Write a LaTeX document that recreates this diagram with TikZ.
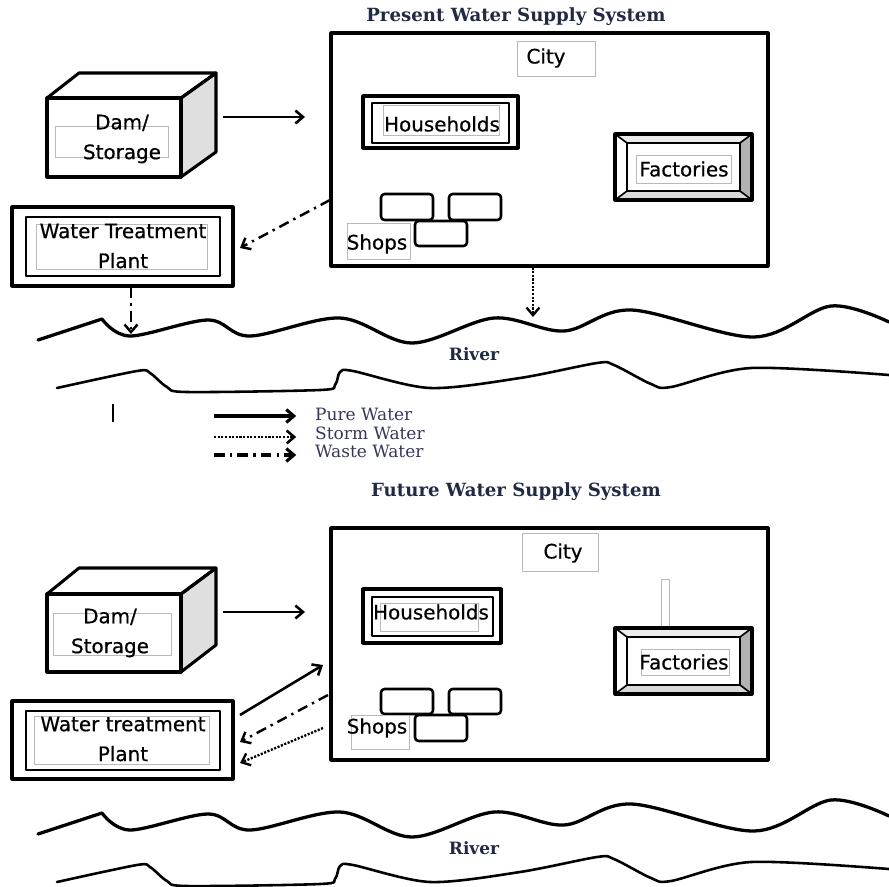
\documentclass[tikz,border=0pt]{standalone}
\usepackage{fontspec}
\usepackage{tikz}
\usetikzlibrary{arrows.meta,fit}
\newfontfamily\handfont[FakeBold=0.6]{DejaVu Sans}
\newfontfamily\capfont{DejaVu Serif}
\definecolor{titleblue}{RGB}{31,42,70}
\definecolor{legendblue}{RGB}{50,54,96}

\begin{document}
\begin{tikzpicture}[
    x=0.03cm, y=-0.03cm,
    line join=round,
    >={Straight Barb[length=6.5pt,width=11pt]},
    box/.style={draw, line width=2.6pt, inner sep=0pt},
    lblbox/.style={draw=gray!55, line width=0.5pt, inner sep=0pt},
    lbl/.style={font=\handfont\fontsize{17}{25.5}\selectfont, align=center, inner sep=0pt},
    heading/.style={font=\capfont\bfseries\fontsize{15.5}{18}\selectfont, text=titleblue, inner sep=0pt},
    riverlbl/.style={font=\capfont\bfseries\fontsize{14.5}{16}\selectfont, text=titleblue, inner sep=0pt},
    legtxt/.style={font=\capfont\fontsize{14.5}{16}\selectfont, text=legendblue, anchor=west, inner sep=0pt},
    pure/.style={->, line width=2.2pt},
    storm/.style={->, line width=2pt, dash pattern=on 1.8pt off 1.3pt},
    waste/.style={->, line width=2.1pt, dash pattern=on 9pt off 4.5pt on 2pt off 4.5pt},
    shop/.style={draw, line width=2.2pt, rounded corners=3pt, inner sep=0pt},
    riverline/.style={line width=2.8pt, line cap=round}
]
\useasboundingbox (0,0) rectangle (889,886);

% ---------- Present Water Supply System ----------
\node[heading] (title1) at (516,17) {Present Water Supply System};

% City
\node[box, fit={(331,33) (768,266)}] (city1) {};
\node[lblbox, fit={(517,41) (595,76)}] (citybox1) {};
\node[lbl] (citytxt1) at (546,58) {City};

% Households
\node[box, fit={(363,96) (518,148)}] (house1) {};
\draw[line width=2.4pt] (372,103) rectangle (509,143);
\node[lblbox, fit={(383,105) (499,135)}] (housebox1) {};
\node[lbl] (housetxt1) at (442,124) {Households};

% Factories
\fill[gray!15] (615,134) -- (752,134) -- (740,143) -- (627,143) -- cycle;
\fill[gray!60] (752,134) -- (752,200) -- (740,191) -- (740,143) -- cycle;
\fill[gray!30] (615,200) -- (752,200) -- (740,191) -- (627,191) -- cycle;
\draw[line width=1.4pt] (615,134) -- (627,143) (752,134) -- (740,143)
    (752,200) -- (740,191) (615,200) -- (627,191);
\draw[line width=1.8pt] (627,143) rectangle (740,191);
\node[box, fit={(615,134) (752,200)}] (fact1) {};
\node[lblbox, fit={(636,155) (731,183)}] (factbox1) {};
\node[lbl] (facttxt1) at (684,169) {Factories};

% Shops
\node[shop, fit={(381,194) (433,220)}] (shopa1) {};
\node[shop, fit={(449,194) (501,220)}] (shopb1) {};
\node[shop, fit={(415,221) (467,246)}] (shopc1) {};
\node[lblbox, fit={(347,223) (410,259)}] (shopbox1) {};
\node[lbl] (shoptxt1) at (377,244) {Shops};

% Dam / Storage
\draw[line width=2.6pt, fill=gray!25] (181,98) -- (216,73) -- (216,152) -- (181,177) -- cycle;
\draw[line width=2.6pt] (47,98) -- (79,73) -- (216,73) -- (181,98);
\node[box, fit={(47,98) (181,177)}] (dam1) {};
\node[lblbox, fit={(55,126) (168,157)}] (dambox1) {};
\node[lbl] (damtxt1) at (122,139) {Dam/\\Storage};

% Water Treatment Plant
\node[box, fit={(12,207) (233,286)}] (wtp1) {};
\draw[line width=2.4pt] (26,217) rectangle (220,276);
\node[lblbox, fit={(36,224) (207,269)}] (wtpbox1) {};
\node[lbl] (wtptxt1) at (123,246) {Water Treatment\\Plant};

% Flows
\coordinate (damout1) at (223,117);
\coordinate (cityin1) at (305,117);
\coordinate (cityw1) at (330,200);
\coordinate (wtpin1) at (240,248);
\coordinate (riverin1) at (131,334);
\coordinate (riverin2) at (533,317);
\draw[pure] (damout1) -- (cityin1);
\draw[waste] (cityw1) -- (wtpin1);
\draw[waste] (wtp1.south -| riverin1) -- (riverin1);
\draw[storm] (city1.south -| riverin2) -- (riverin2);

% River
\draw[riverline] (38,340) -- plot[smooth, tension=0.55] coordinates {(102,319) (130,336)
    (208,320) (250,336) (340,318) (412,343) (494,318) (564,331) (631,310)
    (754,337) (831,306) (889,322)};
\draw[riverline, line width=2.2pt] plot[smooth, tension=0.5] coordinates {(57,388) (137,371)
    (150,373) (167,387) (187,392) (320,390) (335,385) (340,372) (353,371)
    (430,388) (520,378) (597,363) (614,365) (651,384) (671,387) (751,368) (889,375)};
\node[riverlbl] (river1) at (474,354) {River};

% Legend
\draw[line width=1.4pt] (113,404) -- (113,422);
\node[legtxt] (lgpure) at (315,414) {Pure Water};
\node[legtxt] (lgstorm) at (315,433) {Storm Water};
\node[legtxt] (lgwaste) at (315,451) {Waste Water};
\coordinate (lgp) at (214,416);
\coordinate (lgs) at (214,437);
\coordinate (lgw) at (214,455);
\draw[pure, line width=2.6pt, shorten >=16pt] (lgp) -- (lgp -| lgpure.west);
\draw[storm, line width=2.2pt, shorten >=16pt] (lgs) -- (lgs -| lgstorm.west);
\draw[waste, line width=2.6pt, shorten >=16pt] (lgw) -- (lgw -| lgwaste.west);

% ---------- Future Water Supply System ----------
\node[heading] (title2) at (516,492) {Future Water Supply System};

% City
\node[box, fit={(331,528) (768,760)}] (city2) {};
\node[lblbox, fit={(522,533) (598,571)}] (citybox2) {};
\node[lbl] (citytxt2) at (563,553) {City};
\draw[gray!55, line width=0.5pt] (661,579) rectangle (669,627);

% Households
\node[box, fit={(363,589) (501,643)}] (house2) {};
\draw[line width=2.4pt] (372,597) rectangle (493,636);
\node[lblbox, fit={(380,603) (478,631)}] (housebox2) {};
\node[lbl] (housetxt2) at (431,612) {Households};

% Factories
\fill[gray!15] (615,628) -- (752,628) -- (740,637) -- (627,637) -- cycle;
\fill[gray!60] (752,628) -- (752,694) -- (740,685) -- (740,637) -- cycle;
\fill[gray!30] (615,694) -- (752,694) -- (740,685) -- (627,685) -- cycle;
\draw[line width=1.4pt] (615,628) -- (627,637) (752,628) -- (740,637)
    (752,694) -- (740,685) (615,694) -- (627,685);
\draw[line width=1.8pt] (627,637) rectangle (740,685);
\node[box, fit={(615,628) (752,694)}] (fact2) {};
\node[lblbox, fit={(641,649) (729,675)}] (factbox2) {};
\node[lbl] (facttxt2) at (684,662) {Factories};

% Shops
\node[shop, fit={(381,689) (433,714)}] (shopa2) {};
\node[shop, fit={(449,689) (501,714)}] (shopb2) {};
\node[shop, fit={(415,715) (467,741)}] (shopc2) {};
\node[lblbox, fit={(351,715) (409,749)}] (shopbox2) {};
\node[lbl] (shoptxt2) at (377,728) {Shops};

% Dam / Storage
\draw[line width=2.6pt, fill=gray!25] (181,594) -- (216,568) -- (216,645) -- (181,672) -- cycle;
\draw[line width=2.6pt] (47,594) -- (79,568) -- (216,568) -- (181,594);
\node[box, fit={(47,594) (181,672)}] (dam2) {};
\node[lblbox, fit={(53,613) (171,655)}] (dambox2) {};
\node[lbl] (damtxt2) at (110,633) {Dam/\\Storage};

% Water treatment plant
\node[box, fit={(12,701) (233,779)}] (wtp2) {};
\draw[line width=2.4pt] (26,711) rectangle (220,770);
\node[lblbox, fit={(34,716) (209,764)}] (wtpbox2) {};
\node[lbl] (wtptxt2) at (123,739) {Water treatment\\Plant};

% Flows
\coordinate (damout2) at (223,612);
\coordinate (cityin2) at (305,612);
\coordinate (wtpout2) at (240,715);
\coordinate (cityin3) at (323,665);
\coordinate (cityw2) at (328,695);
\coordinate (wtpin2) at (240,742);
\coordinate (cityw3) at (323,728);
\coordinate (wtpin3) at (240,763);
\draw[pure] (damout2) -- (cityin2);
\draw[pure] (wtpout2) -- (cityin3);
\draw[waste] (cityw2) -- (wtpin2);
\draw[storm] (cityw3) -- (wtpin3);

% River
\begin{scope}[shift={(0,494)}]
\draw[riverline] (38,340) -- plot[smooth, tension=0.55] coordinates {(102,319) (130,336)
    (208,320) (250,336) (340,318) (412,343) (494,318) (564,331) (631,310)
    (754,337) (831,306) (889,322)};
\draw[riverline, line width=2.2pt] plot[smooth, tension=0.5] coordinates {(57,388) (137,371)
    (150,373) (167,387) (187,392) (320,390) (335,385) (340,372) (353,371)
    (430,388) (520,378) (597,363) (614,365) (651,384) (671,387) (751,368) (889,375)};
\node[riverlbl] (river2) at (474,354) {River};
\end{scope}

\end{tikzpicture}
\end{document}
